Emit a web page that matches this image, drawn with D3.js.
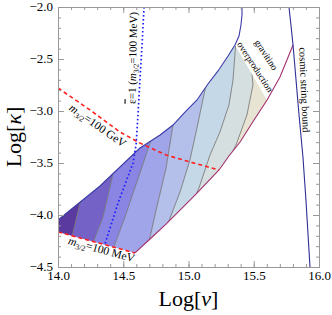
<!DOCTYPE html>
<html>
<head>
<meta charset="utf-8">
<script src="https://cdn.jsdelivr.net/npm/d3@7"></script>
<style>
  body { margin: 0; background: #fff; }
  svg { display: block; font-family: 'Liberation Serif', 'DejaVu Serif', serif; }
</style>
</head>
<body>
<div id="chart"></div>
<script>
// all points are [Log nu, Log kappa]
const xTicks = [14.0, 14.5, 15.0, 15.5, 16.0];
const yTicks = [-2.0, -2.5, -3.0, -3.5, -4.0, -4.5];

// upper-left boundary of the allowed region (navy)
const topEdge = [[14.000,-4.048],[14.322,-3.721],[14.628,-3.356],[14.782,-3.231],[14.881,-3.135],
                 [14.973,-3.010],[15.065,-2.894],[15.149,-2.740],[15.226,-2.615],[15.303,-2.471],[15.356,-2.365]];
const topEdgeUp = [[15.356,-2.365],[15.387,-2.279],[15.402,-2.173],[15.410,-2.077],[15.410,-2.000]];
// lower-right boundary (magenta), top to bottom
const lowerEdge = [[15.801,-2.365],[15.701,-2.673],[15.602,-2.894],[15.502,-3.087],[15.395,-3.298],
                   [15.310,-3.433],[15.234,-3.567],[15.050,-3.808],[14.828,-4.087],[14.705,-4.231],[14.590,-4.365]];
const mev100 = [[14.000,-4.163],[14.590,-4.365]];
const gev100 = [[14.000,-2.779],[14.245,-2.990],[14.475,-3.202],[14.628,-3.308],[14.828,-3.423],[15.011,-3.490],[15.234,-3.567]];
const eps1 = [[14.659,-2.000],[14.644,-2.365],[14.628,-2.702],[14.613,-3.038],[14.598,-3.327],[14.575,-3.500],[14.460,-3.885],[14.360,-4.279]];
const cosmic = [[15.770,-2.000],[15.785,-2.173],[15.801,-2.365],[15.824,-2.702],[15.847,-3.038],[15.877,-3.442],[15.900,-3.856],[15.931,-4.500]];

// contour lines inside the region, left to right, each top to bottom
const contours = [
  [[14.184,-3.808],[14.092,-4.288]],
  [[14.429,-3.567],[14.414,-3.644],[14.345,-4.019],[14.253,-4.317]],
  [[14.720,-3.250],[14.705,-3.308],[14.628,-3.596],[14.513,-4.019],[14.414,-4.356]],
  [[14.904,-3.058],[14.881,-3.135],[14.828,-3.548],[14.743,-4.000],[14.690,-4.298]],
  [[15.157,-2.663],[15.126,-2.798],[15.065,-3.163],[15.011,-3.471],[14.935,-3.779],[14.835,-4.106]],
  [[15.364,-2.317],[15.341,-2.702],[15.310,-2.942],[15.241,-3.202],[15.165,-3.423],[15.080,-3.740],[15.042,-3.856]],
  [[15.479,-2.529],[15.494,-2.750],[15.448,-3.038],[15.364,-3.327],[15.295,-3.500]]
];
const bandColors = ['#5b3a9f','#7462c6','#8a85e2','#a0a4e8','#b4bfea','#c5d8e7','#d6dfdf','#e8e4d4'];

const Chart = function(){
  const W = 332, H = 315,
        L = 58, R = 319, T = 7, B = 267;

  const plot = () => {
    const svg = d3.select('#chart').append('svg')
      .attr('width', W).attr('height', H);

    const x = d3.scaleLinear().domain([14, 16]).range([L, R]);
    const y = d3.scaleLinear().domain([-4.5, -2]).range([B, T]);
    const line = d3.line().x(d => x(d[0])).y(d => y(d[1]));

    const defs = svg.append('defs');
    const region = topEdge.concat(lowerEdge.slice(2), mev100.slice().reverse());
    defs.append('clipPath').attr('id', 'region')
      .append('path').attr('d', line(region) + 'Z');
    defs.append('clipPath').attr('id', 'plotArea')
      .append('rect').attr('x', L).attr('y', T).attr('width', R - L).attr('height', B - T);

    // colour bands between neighbouring contours
    const ext = c => [[c[0][0], -2.2]].concat(c, [[c[c.length - 1][0], -4.6]]);
    const farLeft = [[13.9, -2.5], [13.9, -4.5]], farRight = [[15.9, -2.5], [15.9, -4.5]];
    const bounds = [farLeft].concat(contours, [farRight]);
    const gr = svg.append('g').attr('clip-path', 'url(#region)');
    bandColors.forEach((col, i) => {
      const poly = ext(bounds[i]).concat(ext(bounds[i + 1]).reverse());
      gr.append('path').attr('d', line(poly) + 'Z').attr('fill', col);
    });
    gr.selectAll('.ctr').data(contours).enter().append('path')
      .attr('class', 'ctr')
      .attr('d', line).attr('fill', 'none')
      .attr('stroke', '#6e6e6e').attr('stroke-width', 0.8);

    const g = svg.append('g').attr('clip-path', 'url(#plotArea)');
    const draw = (data, col, w, dash) => g.append('path')
      .attr('d', line(data)).attr('fill', 'none')
      .attr('stroke', col).attr('stroke-width', w)
      .attr('stroke-dasharray', dash || null);

    draw(topEdge, '#3b3ba6', 1.1);
    draw(topEdgeUp, '#3b3ba6', 1.1);
    draw(lowerEdge, '#a3306f', 1.1);
    draw(cosmic, '#2e2e96', 1.1);
    draw(mev100, '#ff2020', 1.6, '4,3');
    draw(gev100, '#ff2020', 1.6, '4,3');
    draw(eps1, '#1c1cff', 1.7, '1.6,2.4');

    // frame with inward ticks on all four sides, labels bottom and left
    const fmt = d3.format('.1f');
    const sides = [
      [d3.axisBottom, x, `translate(0,${B})`, xTicks, x.ticks(20), true],
      [d3.axisTop,    x, `translate(0,${T})`, xTicks, x.ticks(20), false],
      [d3.axisLeft,   y, `translate(${L},0)`, yTicks, y.ticks(25), true],
      [d3.axisRight,  y, `translate(${R},0)`, yTicks, y.ticks(25), false]
    ];
    sides.forEach(([mk, sc, tr, major, minor, lab]) => {
      const gm = svg.append('g').attr('transform', tr)
        .call(mk(sc).tickValues(minor).tickSize(-3).tickFormat(''));
      gm.select('.domain').remove();
      gm.selectAll('line').attr('stroke', '#999');
      const gM = svg.append('g').attr('transform', tr)
        .call(mk(sc).tickValues(major).tickSize(-6).tickPadding(sc === x ? 4 : 5)
                     .tickFormat(lab ? fmt : ''));
      gM.select('.domain').attr('stroke', '#999');
      gM.selectAll('line').attr('stroke', '#999');
      gM.selectAll('text').attr('font-size', 13).attr('fill', '#000')
        .attr('font-family', "'Liberation Serif', serif");
      if (sc === y) gM.selectAll('text').attr('dy', '0.26em');
    });

    // axis titles
    svg.append('text')
      .attr('x', (L + R) / 2).attr('y', 306)
      .attr('text-anchor', 'middle').attr('font-size', 22)
      .html('Log[<tspan font-style="italic">ν</tspan>]');
    svg.append('text')
      .attr('transform', `translate(21,${(T + B) / 2}) rotate(-90)`)
      .attr('text-anchor', 'middle').attr('font-size', 22)
      .html('Log[<tspan font-style="italic">κ</tspan>]');

    // annotations
    const m32 = (fs, rest) =>
      `<tspan font-style="italic">m</tspan><tspan font-size="${fs * 0.68}" dy="${fs * 0.22}">3/2</tspan><tspan dy="${-fs * 0.22}">${rest}</tspan>`;
    const note = (px, py, rot, fs, html) => svg.append('text')
      .attr('transform', `translate(${x(px)},${y(py)}) rotate(${rot})`)
      .attr('text-anchor', 'middle').attr('font-size', fs).html(html);

    note(14.288, -3.170, 35, 11.5, m32(11.5, '=100 GeV'));
    note(14.326, -4.367, 15.5, 11.5, m32(11.5, '=100 MeV'));
    note(14.600, -2.490, -89, 11,
         '<tspan text-decoration="overline">ε</tspan>=1 (' + m32(11, '=100 MeV') + ')');
    note(15.575, -2.477, 57, 9.5, 'gravitino');
    note(15.490, -2.592, 57, 9.5, 'overproduction');
    note(15.862, -2.798, 87.5, 10.5, 'cosmic string bound');
  };

  return { load: plot };
}();
document.addEventListener('DOMContentLoaded', Chart.load);
</script>
</body>
</html>
